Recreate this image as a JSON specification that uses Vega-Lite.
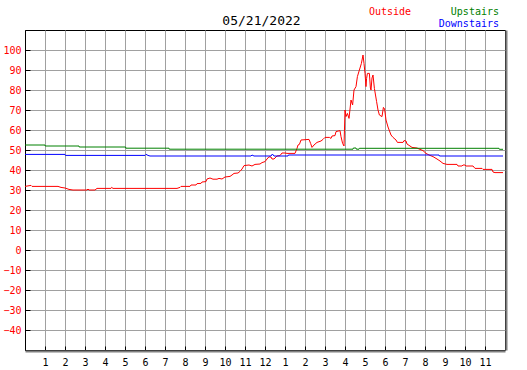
{
  "$schema": "https://vega.github.io/schema/vega-lite/v6.json",
  "width": 480,
  "height": 320,
  "autosize": {"type": "none"},
  "padding": {"left": 25, "top": 30, "right": 22, "bottom": 20},
  "background": "white",
  "config": {
    "view": {"stroke": "black", "strokeWidth": 1},
    "axis": {"gridColor": "#a0a0a0", "gridOpacity": 1, "gridWidth": 1, "labelFont": "DejaVu Sans Mono", "labelFontSize": 10, "tickColor": "black", "domainColor": "black"}
  },
  "datasets": {
    "temps": [
      {"h": 0, "s": "Outside", "v": 31.8},
      {"h": 0.3, "s": "Outside", "v": 32.3},
      {"h": 0.35, "s": "Outside", "v": 31.8},
      {"h": 1.65, "s": "Outside", "v": 31.8},
      {"h": 1.8, "s": "Outside", "v": 31.3},
      {"h": 2.0, "s": "Outside", "v": 31.0},
      {"h": 2.2, "s": "Outside", "v": 30.3},
      {"h": 2.4, "s": "Outside", "v": 30.0},
      {"h": 3.1, "s": "Outside", "v": 30.0},
      {"h": 3.15, "s": "Outside", "v": 30.5},
      {"h": 3.2, "s": "Outside", "v": 30.0},
      {"h": 3.5, "s": "Outside", "v": 30.0},
      {"h": 3.6, "s": "Outside", "v": 30.8},
      {"h": 4.3, "s": "Outside", "v": 30.8},
      {"h": 4.33, "s": "Outside", "v": 31.3},
      {"h": 4.4, "s": "Outside", "v": 30.8},
      {"h": 7.6, "s": "Outside", "v": 30.8},
      {"h": 7.75, "s": "Outside", "v": 31.3},
      {"h": 7.8, "s": "Outside", "v": 31.8},
      {"h": 8.25, "s": "Outside", "v": 31.8},
      {"h": 8.3, "s": "Outside", "v": 32.5},
      {"h": 8.55, "s": "Outside", "v": 32.5},
      {"h": 8.6, "s": "Outside", "v": 33.2},
      {"h": 8.8, "s": "Outside", "v": 33.3},
      {"h": 8.85, "s": "Outside", "v": 34.0},
      {"h": 9.05, "s": "Outside", "v": 34.2},
      {"h": 9.1, "s": "Outside", "v": 35.5},
      {"h": 9.25, "s": "Outside", "v": 36.0},
      {"h": 9.4, "s": "Outside", "v": 35.4},
      {"h": 9.6, "s": "Outside", "v": 35.4},
      {"h": 9.7, "s": "Outside", "v": 35.8},
      {"h": 9.85, "s": "Outside", "v": 35.5},
      {"h": 10.0, "s": "Outside", "v": 36.5},
      {"h": 10.25, "s": "Outside", "v": 36.8},
      {"h": 10.35, "s": "Outside", "v": 37.5},
      {"h": 10.45, "s": "Outside", "v": 38.3},
      {"h": 10.65, "s": "Outside", "v": 38.5},
      {"h": 10.75, "s": "Outside", "v": 39.3},
      {"h": 10.85, "s": "Outside", "v": 40.5},
      {"h": 10.95, "s": "Outside", "v": 42.2},
      {"h": 11.2, "s": "Outside", "v": 42.5},
      {"h": 11.35, "s": "Outside", "v": 42.0},
      {"h": 11.5, "s": "Outside", "v": 42.8},
      {"h": 11.75, "s": "Outside", "v": 43.0},
      {"h": 11.85, "s": "Outside", "v": 43.7},
      {"h": 12.0, "s": "Outside", "v": 44.2},
      {"h": 12.1, "s": "Outside", "v": 45.5},
      {"h": 12.2, "s": "Outside", "v": 46.6},
      {"h": 12.3, "s": "Outside", "v": 46.5},
      {"h": 12.35, "s": "Outside", "v": 45.5},
      {"h": 12.45, "s": "Outside", "v": 45.5},
      {"h": 12.6, "s": "Outside", "v": 47.0},
      {"h": 12.75, "s": "Outside", "v": 47.2},
      {"h": 12.85, "s": "Outside", "v": 48.5},
      {"h": 13.0, "s": "Outside", "v": 48.5},
      {"h": 13.1, "s": "Outside", "v": 48.3},
      {"h": 13.5, "s": "Outside", "v": 48.3},
      {"h": 13.6, "s": "Outside", "v": 50.8},
      {"h": 13.65, "s": "Outside", "v": 52.5},
      {"h": 13.72, "s": "Outside", "v": 52.8},
      {"h": 13.8, "s": "Outside", "v": 55.0},
      {"h": 14.2, "s": "Outside", "v": 55.3},
      {"h": 14.28, "s": "Outside", "v": 53.3},
      {"h": 14.35, "s": "Outside", "v": 51.3},
      {"h": 14.45, "s": "Outside", "v": 52.5},
      {"h": 14.6, "s": "Outside", "v": 53.8},
      {"h": 14.8, "s": "Outside", "v": 54.5},
      {"h": 14.9, "s": "Outside", "v": 55.3},
      {"h": 15.0, "s": "Outside", "v": 56.3},
      {"h": 15.22, "s": "Outside", "v": 56.3},
      {"h": 15.3, "s": "Outside", "v": 55.8},
      {"h": 15.35, "s": "Outside", "v": 57.0},
      {"h": 15.5, "s": "Outside", "v": 57.2},
      {"h": 15.55, "s": "Outside", "v": 59.2},
      {"h": 15.75, "s": "Outside", "v": 59.7},
      {"h": 15.8, "s": "Outside", "v": 56.7},
      {"h": 15.88, "s": "Outside", "v": 53.3},
      {"h": 15.95, "s": "Outside", "v": 52.0},
      {"h": 16.0, "s": "Outside", "v": 70.0},
      {"h": 16.05, "s": "Outside", "v": 66.7},
      {"h": 16.12, "s": "Outside", "v": 68.3},
      {"h": 16.2, "s": "Outside", "v": 65.8},
      {"h": 16.3, "s": "Outside", "v": 75.0},
      {"h": 16.38, "s": "Outside", "v": 72.5},
      {"h": 16.45, "s": "Outside", "v": 80.0},
      {"h": 16.55, "s": "Outside", "v": 81.7},
      {"h": 16.62, "s": "Outside", "v": 86.7},
      {"h": 16.72, "s": "Outside", "v": 90.0},
      {"h": 16.82, "s": "Outside", "v": 93.3},
      {"h": 16.9, "s": "Outside", "v": 97.5},
      {"h": 16.95, "s": "Outside", "v": 93.3},
      {"h": 17.0, "s": "Outside", "v": 88.3},
      {"h": 17.05, "s": "Outside", "v": 81.7},
      {"h": 17.08, "s": "Outside", "v": 85.8},
      {"h": 17.12, "s": "Outside", "v": 88.3},
      {"h": 17.22, "s": "Outside", "v": 88.3},
      {"h": 17.27, "s": "Outside", "v": 81.0},
      {"h": 17.3, "s": "Outside", "v": 80.0},
      {"h": 17.35, "s": "Outside", "v": 86.0},
      {"h": 17.4, "s": "Outside", "v": 87.5},
      {"h": 17.47, "s": "Outside", "v": 80.8},
      {"h": 17.58, "s": "Outside", "v": 74.2},
      {"h": 17.65, "s": "Outside", "v": 70.0},
      {"h": 17.72, "s": "Outside", "v": 67.5},
      {"h": 17.85, "s": "Outside", "v": 66.7},
      {"h": 17.92, "s": "Outside", "v": 71.3},
      {"h": 17.98, "s": "Outside", "v": 70.5},
      {"h": 18.05, "s": "Outside", "v": 65.0},
      {"h": 18.15, "s": "Outside", "v": 61.5},
      {"h": 18.3, "s": "Outside", "v": 57.5},
      {"h": 18.4, "s": "Outside", "v": 56.3},
      {"h": 18.55, "s": "Outside", "v": 55.0},
      {"h": 18.62, "s": "Outside", "v": 53.8},
      {"h": 18.9, "s": "Outside", "v": 53.8},
      {"h": 18.95, "s": "Outside", "v": 54.7},
      {"h": 19.05, "s": "Outside", "v": 54.5},
      {"h": 19.1, "s": "Outside", "v": 53.0},
      {"h": 19.25, "s": "Outside", "v": 52.0},
      {"h": 19.35, "s": "Outside", "v": 51.3},
      {"h": 19.6, "s": "Outside", "v": 51.0},
      {"h": 19.75, "s": "Outside", "v": 50.3},
      {"h": 19.9, "s": "Outside", "v": 49.7},
      {"h": 20.05, "s": "Outside", "v": 48.3},
      {"h": 20.2, "s": "Outside", "v": 47.5},
      {"h": 20.4, "s": "Outside", "v": 46.7},
      {"h": 20.6, "s": "Outside", "v": 45.5},
      {"h": 20.75, "s": "Outside", "v": 44.5},
      {"h": 20.9, "s": "Outside", "v": 43.3},
      {"h": 21.1, "s": "Outside", "v": 42.8},
      {"h": 21.6, "s": "Outside", "v": 42.8},
      {"h": 21.65, "s": "Outside", "v": 42.0},
      {"h": 21.85, "s": "Outside", "v": 42.0},
      {"h": 21.9, "s": "Outside", "v": 42.5},
      {"h": 22.0, "s": "Outside", "v": 42.5},
      {"h": 22.05, "s": "Outside", "v": 42.0},
      {"h": 22.4, "s": "Outside", "v": 42.0},
      {"h": 22.5, "s": "Outside", "v": 40.8},
      {"h": 22.85, "s": "Outside", "v": 40.8},
      {"h": 22.9, "s": "Outside", "v": 40.3},
      {"h": 23.35, "s": "Outside", "v": 40.3},
      {"h": 23.4, "s": "Outside", "v": 39.0},
      {"h": 23.5, "s": "Outside", "v": 38.7},
      {"h": 23.9, "s": "Outside", "v": 38.7},
      {"h": 0, "s": "Upstairs", "v": 52.5},
      {"h": 1.0, "s": "Upstairs", "v": 52.5},
      {"h": 1.01, "s": "Upstairs", "v": 52.0},
      {"h": 2.7, "s": "Upstairs", "v": 52.0},
      {"h": 2.71, "s": "Upstairs", "v": 51.5},
      {"h": 5.03, "s": "Upstairs", "v": 51.5},
      {"h": 5.04, "s": "Upstairs", "v": 50.9},
      {"h": 7.2, "s": "Upstairs", "v": 50.9},
      {"h": 7.21, "s": "Upstairs", "v": 50.4},
      {"h": 16.4, "s": "Upstairs", "v": 50.4},
      {"h": 16.42, "s": "Upstairs", "v": 51.0},
      {"h": 16.55, "s": "Upstairs", "v": 51.0},
      {"h": 16.57, "s": "Upstairs", "v": 50.4},
      {"h": 16.7, "s": "Upstairs", "v": 50.4},
      {"h": 16.72, "s": "Upstairs", "v": 50.85},
      {"h": 23.7, "s": "Upstairs", "v": 50.85},
      {"h": 23.72, "s": "Upstairs", "v": 50.35},
      {"h": 23.9, "s": "Upstairs", "v": 50.35},
      {"h": 0, "s": "Downstairs", "v": 47.8},
      {"h": 2.0, "s": "Downstairs", "v": 47.8},
      {"h": 2.02, "s": "Downstairs", "v": 47.3},
      {"h": 6.0, "s": "Downstairs", "v": 47.3},
      {"h": 6.05, "s": "Downstairs", "v": 47.8},
      {"h": 6.15, "s": "Downstairs", "v": 47.3},
      {"h": 6.25, "s": "Downstairs", "v": 47.0},
      {"h": 11.3, "s": "Downstairs", "v": 47.0},
      {"h": 11.35, "s": "Downstairs", "v": 47.5},
      {"h": 11.45, "s": "Downstairs", "v": 47.0},
      {"h": 12.3, "s": "Downstairs", "v": 47.0},
      {"h": 12.37, "s": "Downstairs", "v": 48.0},
      {"h": 12.45, "s": "Downstairs", "v": 47.0},
      {"h": 13.15, "s": "Downstairs", "v": 47.0},
      {"h": 13.17, "s": "Downstairs", "v": 47.5},
      {"h": 20.7, "s": "Downstairs", "v": 47.5},
      {"h": 20.72, "s": "Downstairs", "v": 47.0},
      {"h": 23.9, "s": "Downstairs", "v": 47.0}
    ]
  },
  "data": {"name": "temps"},
  "resolve": {"axis": {"y": "independent", "x": "independent"}},
  "layer": [
    {
      "mark": {"type": "line", "strokeWidth": 1, "interpolate": "linear"},
      "encoding": {
        "x": {"field": "h", "type": "quantitative", "scale": {"domain": [0, 24], "nice": false, "zero": false},
          "axis": {"title": null, "values": [1,2,3,4,5,6,7,8,9,10,11,12,13,14,15,16,17,18,19,20,21,22,23],
            "labelExpr": "datum.value % 12 == 0 ? '12' : '' + (datum.value % 12)",
            "tickSize": -5, "labelPadding": 11, "offset": 1, "domainColor": "#808080", "domainWidth": 2,
            "labelColor": "black", "labelFlush": false, "labelOverlap": false}},
        "y": {"field": "v", "type": "quantitative", "scale": {"domain": [-50, 110], "nice": false, "zero": false},
          "axis": {"title": null, "values": [-40,-30,-20,-10,0,10,20,30,40,50,60,70,80,90,100],
            "tickSize": -5, "labelPadding": 9, "labelColor": "#ff0000", "labelFlush": false, "labelBaseline": "middle", "labelOverlap": false}},
        "color": {"field": "s", "type": "nominal",
          "scale": {"domain": ["Outside", "Upstairs", "Downstairs"], "range": ["#ff0000", "#008000", "#0000ff"]},
          "legend": {"orient": "none", "legendX": 344, "legendY": -23, "values": ["Upstairs", "Downstairs"],
            "title": "Outside", "titleOrient": "left", "titleColor": "#ff0000", "titleFont": "DejaVu Sans Mono",
            "titleFontSize": 10, "titleFontWeight": "normal", "titlePadding": 77, "titleBaseline": "top", "titleAnchor": "start",
            "symbolSize": 0, "symbolOpacity": 0, "symbolStrokeWidth": 0, "labelOffset": 0,
            "labelFont": "DejaVu Sans Mono", "labelFontSize": 10, "labelAlign": "right", "rowPadding": 2,
            "encode": {"labels": {"update": {"fill": {"scale": "color", "field": "value"}}}}}},
        "detail": {"field": "s"}
      }
    },
    {
      "mark": {"type": "line", "opacity": 0},
      "encoding": {
        "x": {"field": "h", "type": "quantitative",
          "axis": {"orient": "top", "title": "05/21/2022", "labels": false, "ticks": false, "grid": false, "domain": false,
            "titleFont": "DejaVu Sans Mono", "titleFontSize": 13, "titleFontWeight": "normal", "titleColor": "black",
            "titlePadding": 3, "titleX": 236, "titleAnchor": "middle"}},
        "y": {"field": "v", "type": "quantitative",
          "axis": {"orient": "right", "title": null, "labels": false, "ticks": false, "grid": false,
            "domainColor": "#808080", "domainWidth": 2, "offset": 1}},
        "detail": {"field": "s"}
      }
    }
  ]
}
